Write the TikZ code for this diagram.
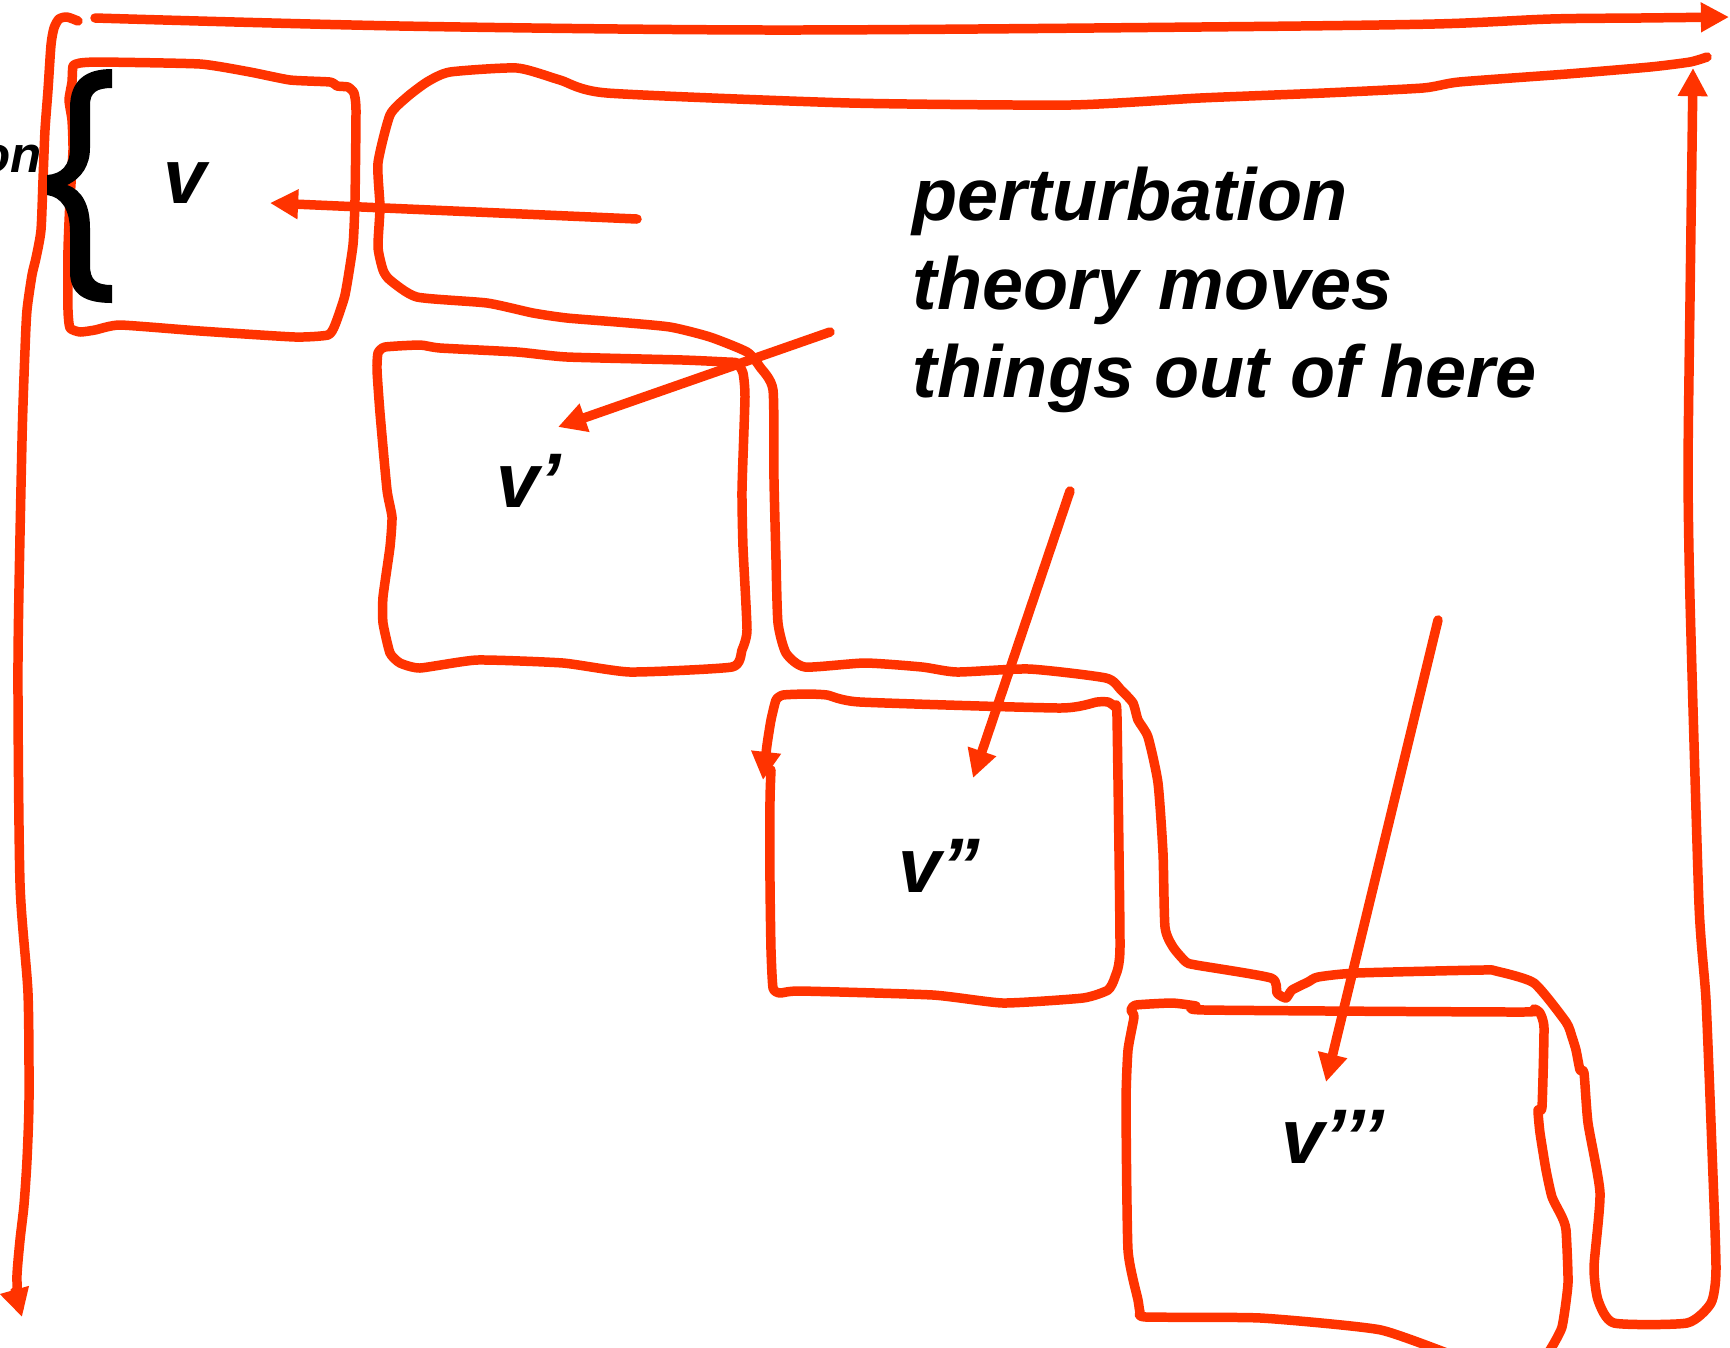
\documentclass[tikz,border=0pt]{standalone}
\usepackage{fontspec}
\setmainfont{Liberation Sans}
\usetikzlibrary{arrows.meta}
\definecolor{sk}{RGB}{255,51,0}
\tikzset{
  redline/.style={draw=sk, line width=2.7pt, line cap=round, line join=round},
  arr/.style={-{Triangle[length=8pt,width=8pt]}},
  lbl/.style={inner sep=0pt, anchor=base west, font=\bfseries\itshape\fontsize{22}{26}\selectfont},
  para/.style={inner sep=0pt, anchor=base west, font=\bfseries\itshape\fontsize{21}{25}\selectfont}
}
\begin{document}
\begin{tikzpicture}[x=0.01cm, y=-0.01cm]
\useasboundingbox (0,0) rectangle (1730,1347);
\fill[white] (0,0) rectangle (1730,1347);

% top arrow
\draw[redline, arr] plot[smooth, tension=0.5] coordinates {(95,18) (400,26) (772,30) (1200,27) (1434,24) (1550,19) (1640,18) (1729,17)};

% left arrow
\draw[redline, arr] plot[smooth, tension=0.4] coordinates {(78,21) (67,17) (59,19) (54,28) (51,45) (48,90) (45,130) (43,180) (41,230) (36,258) (32,275) (27,310) (25,350) (22,441) (18,662) (20,883) (28,993) (29,1100) (27,1160) (24,1205) (20,1240) (17,1275) (18,1300) (22,1317)};

% box v
\draw[redline] plot[smooth cycle, tension=0.3] coordinates {(73,66) (80,63) (100,62) (200,64) (250,72) (290,80) (330,82) (337,86) (348,87) (354,93) (356,110) (355,200) (353,245) (345,295) (335,325) (328,335) (295,337) (200,331) (120,325) (95,330) (80,332) (70,328) (68,310) (68,250) (70,200) (73,150) (72,120) (69,100) (72,82)};

% big snake outline with arrow up on right side
\draw[redline, arr] plot[smooth, tension=0.35] coordinates {(1707,57) (1690,62) (1650,67) (1567,74) (1459,82) (1423,88) (1324,93) (1200,98) (1070,105) (850,103) (607,93) (560,80) (517,68) (450,72) (427,82) (407,97) (390,115) (378,163) (380,207) (378,247) (383,270) (390,280) (417,297) (487,303) (533,313) (567,318) (617,322) (670,327) (710,337) (747,352) (760,367) (773,390) (774,480) (776,560) (778,623) (786,653) (805,667) (865,663) (922,667) (957,672) (1029,669) (1106,678) (1121,690) (1133,703) (1138,720) (1148,737) (1158,783) (1163,853) (1165,927) (1173,947) (1186,962) (1196,965) (1271,978) (1277,993) (1286,998) (1292,990) (1308,982) (1318,977) (1357,973) (1482,970) (1496,971) (1534,983) (1566,1022) (1572,1037) (1576,1050) (1580,1070) (1584,1073) (1588,1123) (1600,1193) (1594,1267) (1598,1300) (1614,1323) (1687,1323) (1711,1303) (1716,1269) (1712,1150) (1706,1000) (1699,905) (1690,600) (1688,470) (1690,300) (1692,150) (1693,68)};

% box v'
\draw[redline] plot[smooth cycle, tension=0.3] coordinates {(378,353) (385,347) (420,345) (440,348) (517,352) (567,357) (683,360) (727,362) (737,363) (743,373) (745,397) (742,490) (743,547) (747,630) (742,650) (732,667) (630,672) (563,663) (477,660) (420,668) (400,663) (390,653) (383,623) (383,597) (390,547) (392,517) (387,490) (380,413) (377,370)};

% box v'' (drawn ending with an arrow on its left side)
\draw[redline, arr] plot[smooth, tension=0.3] coordinates {(771,770) (770,800) (770,883) (771,950) (773,988) (780,993) (800,991) (933,995) (1003,1003) (1083,998) (1108,990) (1115,977) (1120,947) (1117,717) (1115,707) (1108,702) (1097,702) (1060,708) (860,702) (827,695) (807,694) (783,695) (776,700) (771,720) (767,745) (763,780)};

% box v''' (runs off the bottom edge)
\draw[redline] plot[smooth, tension=0.3] coordinates {(1470,1362) (1381,1330) (1261,1318) (1146,1317) (1140,1312) (1138,1300) (1128,1250) (1126,1103) (1128,1050) (1134,1017) (1131,1010) (1136,1005) (1172,1003) (1196,1006) (1205,1010) (1522,1012) (1534,1009) (1540,1013) (1544,1028) (1542,1107) (1538,1110) (1540,1133) (1546,1170) (1552,1197) (1562,1217) (1566,1230) (1568,1283) (1562,1327) (1550,1350) (1540,1362)};

% labels
\node[lbl] (v1) at (163,203) {v};
\node[lbl] (v2) at (496,507) {v’};
\node[lbl] (v3) at (898,892) {v”};
\node[lbl] (v4) at (1281,1163) {v’’’};
\node[inner sep=0pt, anchor=base east, font=\bfseries\itshape\fontsize{14.5}{17}\selectfont] (on) at (42,172) {on};

% text
\node[para] (t1) at (912,220) {perturbation};
\node[para] (t2) at (912,309) {theory moves};
\node[para] (t3) at (912,397) {things out of here};

% arrows from the text region into the boxes
\coordinate (a1s) at (637,219);
\coordinate (a1e) at (270,203);
\coordinate (a2s) at (830,332);
\coordinate (a2e) at (558,427);
\coordinate (a3s) at (1070,491);
\coordinate (a3e) at (973,778);
\coordinate (a4s) at (1438,620);
\coordinate (a4e) at (1326,1082);
\draw[redline, arr] (a1s) -- (a1e);
\draw[redline, arr] (a2s) -- (a2e);
\draw[redline, arr] (a3s) -- (a3e);
\draw[redline, arr] (a4s) -- (a4e);

% black brace
\fill[black] (112,69) .. controls (86,69) and (70,80) .. (70,108) -- (70,148)
  .. controls (70,165) and (62,174) .. (47,175) -- (47,195)
  .. controls (62,197) and (70,210) .. (70,232) -- (70,272)
  .. controls (70,295) and (86,303) .. (112,303) -- (112,285)
  .. controls (96,285) and (90,280) .. (90,265) -- (90,228)
  .. controls (90,205) and (82,190) .. (67,185)
  .. controls (82,178) and (90,165) .. (90,148) -- (90,105)
  .. controls (90,93) and (96,88) .. (112,88) -- cycle;
\end{tikzpicture}
\end{document}
